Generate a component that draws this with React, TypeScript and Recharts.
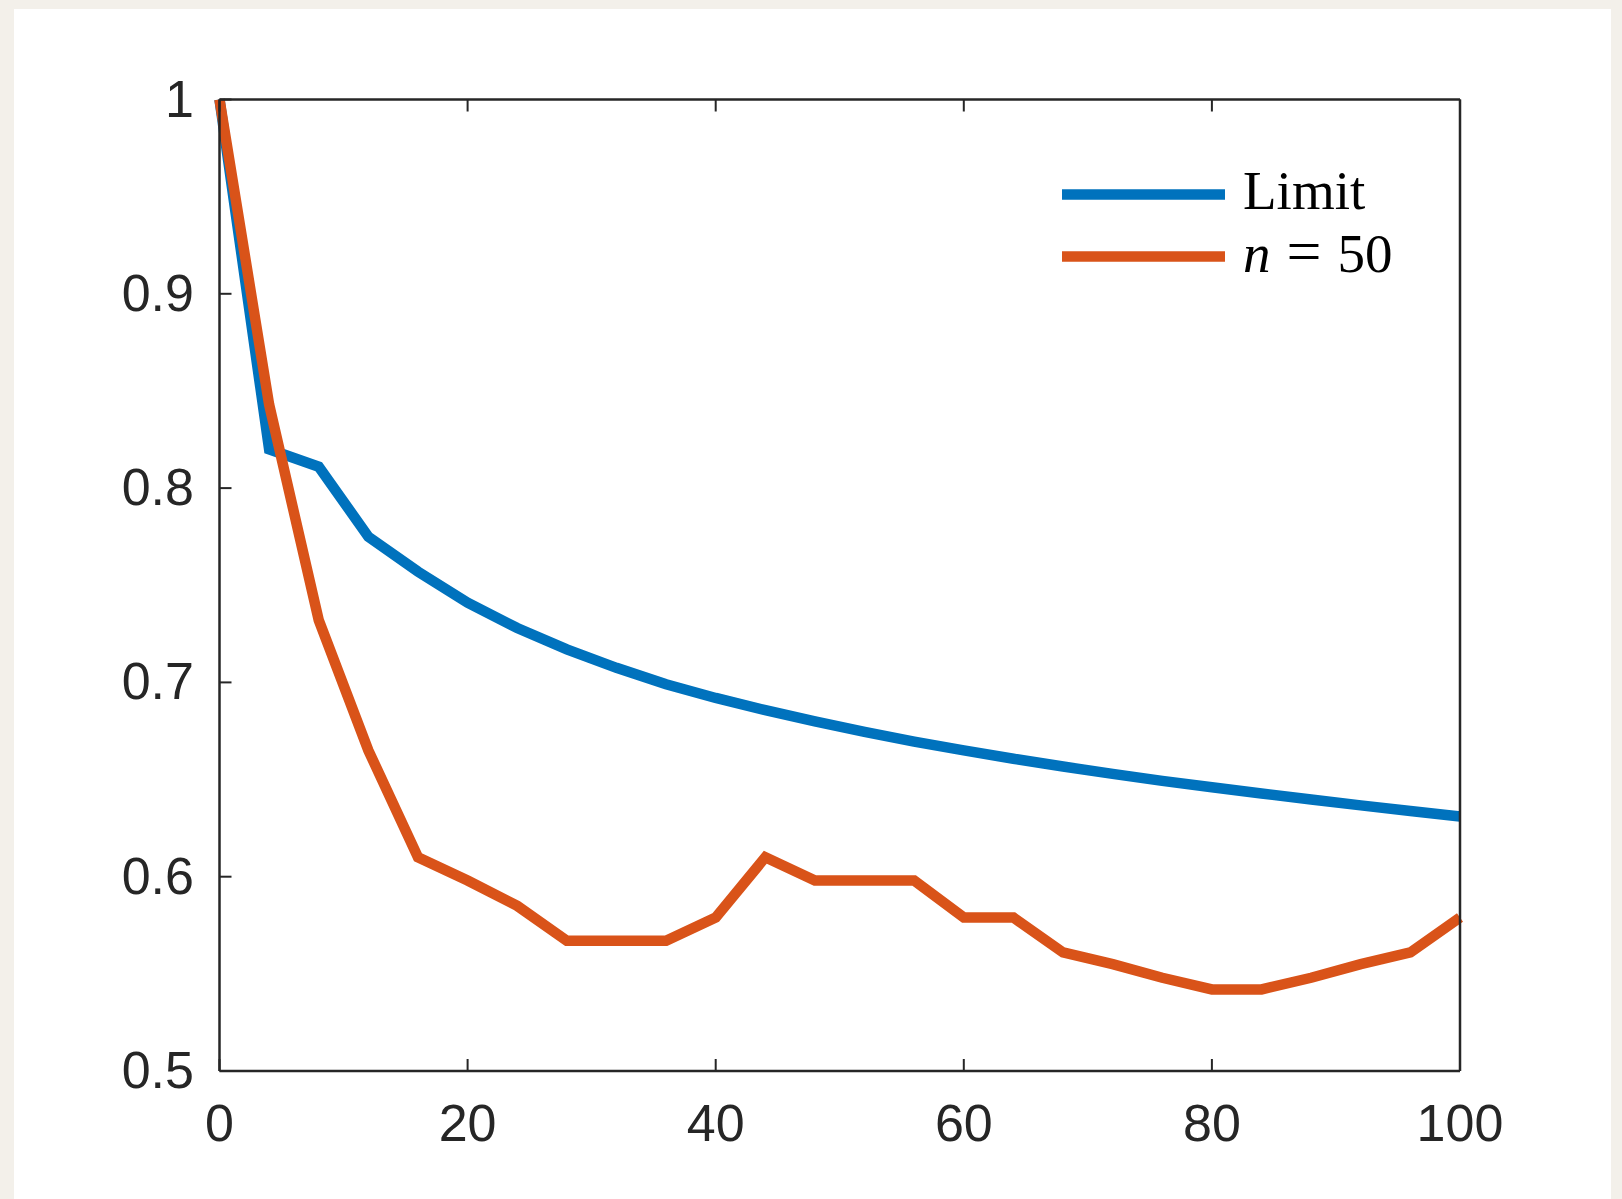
import { Line, LineChart, XAxis, YAxis } from 'recharts';

const W = 1622;
const H = 1199;
// plot box in page pixels
const PLOT = { left: 219.5, top: 99.5, right: 1460, bottom: 1071 };
const AXIS = '#262626';
const TICK_LEN = 12;
const LINE_W = 10.5;

const xs = [0, 4, 8, 12, 16, 20, 24, 28, 32, 36, 40, 44, 48, 52, 56, 60, 64, 68, 72, 76, 80, 84, 88, 92, 96, 100];
const limit = [
  1.0, 0.82, 0.811, 0.775, 0.757, 0.741, 0.728, 0.717, 0.7075, 0.699, 0.692, 0.6857, 0.6799,
  0.6745, 0.6695, 0.665, 0.6607, 0.6567, 0.6529, 0.6493, 0.646, 0.6428, 0.6397, 0.6367, 0.6338, 0.631,
];
const n50 = [
  1.0, 0.843, 0.732, 0.665, 0.61, 0.598, 0.585, 0.567, 0.567, 0.567, 0.579, 0.61, 0.598,
  0.598, 0.598, 0.579, 0.579, 0.561, 0.555, 0.548, 0.542, 0.542, 0.548, 0.555, 0.561, 0.579,
];
const xTicks = [0, 20, 40, 60, 80, 100];
const yTicks = [0.5, 0.6, 0.7, 0.8, 0.9, 1];

const rows = xs.map((x, i) => ({ x, limit: limit[i], n50: n50[i] }));

const fmtY = (v: number) => (v === 1 ? '1' : v.toFixed(1));

const labelStyle = { fontFamily: '"Liberation Sans", Arial, sans-serif', fontSize: 52, fill: AXIS };

function BottomTick({ x, payload }: any) {
  return (
    <g>
      <line x1={x} x2={x} y1={PLOT.bottom} y2={PLOT.bottom - TICK_LEN} stroke={AXIS} strokeWidth={2} />
      <text x={x} y={PLOT.bottom + 70} textAnchor="middle" {...labelStyle}>
        {payload.value}
      </text>
    </g>
  );
}

function TopTick({ x }: any) {
  return <line x1={x} x2={x} y1={PLOT.top} y2={PLOT.top + TICK_LEN} stroke={AXIS} strokeWidth={2} />;
}

function LeftTick({ y, payload }: any) {
  return (
    <g>
      <line x1={PLOT.left} x2={PLOT.left + TICK_LEN} y1={y} y2={y} stroke={AXIS} strokeWidth={2} />
      <text x={194} y={y + 17} textAnchor="end" {...labelStyle}>
        {fmtY(payload.value)}
      </text>
    </g>
  );
}

function RightTick({ y }: any) {
  return <line x1={PLOT.right} x2={PLOT.right - TICK_LEN} y1={y} y2={y} stroke={AXIS} strokeWidth={2} />;
}

const legendItems = [
  { key: 'limit', color: '#0072BD' },
  { key: 'n50', color: '#D95319' },
];

function LegendBox() {
  const serif = { fontFamily: '"Liberation Serif", "Times New Roman", serif', fontSize: 55, fill: '#000' };
  return (
    <svg width={420} height={150} style={{ position: 'absolute', left: 1050, top: 140 }}>
      {legendItems.map((it, i) => (
        <line key={it.key} x1={12} x2={175} y1={54.5 + i * 62} y2={54.5 + i * 62} stroke={it.color} strokeWidth={LINE_W} />
      ))}
      <text x={193} y={69} {...serif}>
        Limit
      </text>
      <text x={193} y={132} {...serif}>
        <tspan fontStyle="italic">n</tspan>
        <tspan dx={16} fontSize={62}>=</tspan>
        <tspan dx={16}>50</tspan>
      </text>
    </svg>
  );
}

export default function App() {
  return (
    <div style={{ position: 'absolute', left: 0, top: 0, width: W, height: H, background: '#f3f0ea', overflow: 'hidden' }}>
      <div style={{ position: 'absolute', left: 14, top: 9, width: 1597, height: H, background: '#fff' }} />
      <div style={{ position: 'absolute', left: 0, top: 0 }}>
        <LineChart width={W} height={H} data={rows} margin={{ top: 0, right: 0, bottom: 0, left: 0 }}>
          <XAxis
            xAxisId="b"
            dataKey="x"
            type="number"
            domain={[0, 100]}
            ticks={xTicks}
            height={H - PLOT.bottom}
            axisLine={{ stroke: AXIS, strokeWidth: 2.5 }}
            tickLine={false}
            tick={BottomTick}
            interval={0}
          />
          <XAxis
            xAxisId="t"
            orientation="top"
            dataKey="x"
            type="number"
            domain={[0, 100]}
            ticks={xTicks}
            height={PLOT.top}
            axisLine={{ stroke: AXIS, strokeWidth: 2.5 }}
            tickLine={false}
            tick={TopTick}
            interval={0}
          />
          <YAxis
            yAxisId="l"
            type="number"
            domain={[0.5, 1]}
            ticks={yTicks}
            width={PLOT.left}
            axisLine={{ stroke: AXIS, strokeWidth: 2.5 }}
            tickLine={false}
            tick={LeftTick}
            interval={0}
          />
          <YAxis
            yAxisId="r"
            orientation="right"
            type="number"
            domain={[0.5, 1]}
            ticks={yTicks}
            width={W - PLOT.right}
            axisLine={{ stroke: AXIS, strokeWidth: 2.5 }}
            tickLine={false}
            tick={RightTick}
            interval={0}
          />
          <Line
            xAxisId="b"
            yAxisId="l"
            type="linear"
            dataKey="limit"
            stroke="#0072BD"
            strokeWidth={LINE_W}
            dot={false}
            activeDot={false}
            isAnimationActive={false}
          />
          <Line
            xAxisId="b"
            yAxisId="l"
            type="linear"
            dataKey="n50"
            stroke="#D95319"
            strokeWidth={LINE_W}
            dot={false}
            activeDot={false}
            isAnimationActive={false}
          />
        </LineChart>
      </div>
      <LegendBox />
    </div>
  );
}
